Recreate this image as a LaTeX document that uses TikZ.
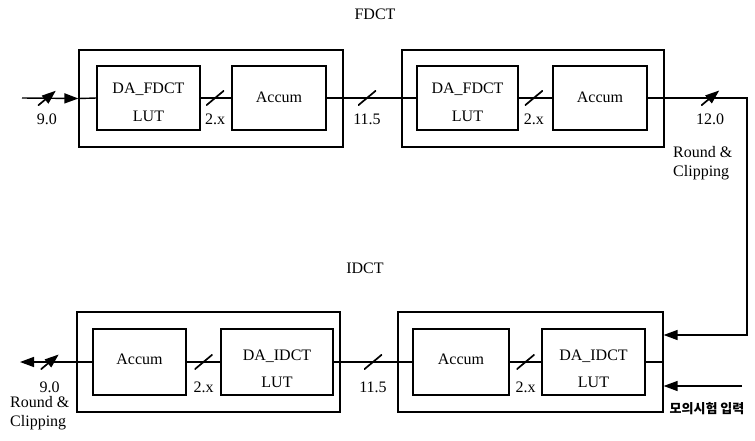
\documentclass[tikz,border=0pt]{standalone}
\usepackage{fontspec}
\setmainfont{Liberation Serif}
\newfontfamily\krfont{Noto Sans CJK KR}
\usetikzlibrary{arrows.meta}
\begin{document}
\begin{tikzpicture}[x=1pt,y=-1pt,
  every node/.style={font=\fontsize{16}{19}\selectfont},
  outerbox/.style={draw, line width=1.2pt, inner sep=0pt, minimum height=#1},
  innerbox/.style={draw, line width=1.2pt, inner sep=0pt, minimum height=#1},
  boxtext/.style={inner sep=0pt, align=center},
  wire/.style={line width=1.4pt},
  arr/.style={wire, -{Triangle[length=14pt,width=10pt]}},
  slash/.style={inner sep=0pt, minimum width=18pt, minimum height=15pt,
    path picture={\draw[line width=1.7pt] (path picture bounding box.south west) -- (path picture bounding box.north east);}},
  lbl/.style={inner sep=0pt},
  toplbl/.style={label={[lbl,label distance=7pt]below:#1}},
  botlbl/.style={label={[lbl,label distance=11pt]below:#1}},
]
\useasboundingbox (0,0) rectangle (755,440);

% titles
\node (t1) at (375,14) {FDCT};
\node (t2) at (365,268) {IDCT};

% top row
\node[outerbox=97pt, minimum width=264pt] (o1) at (211,98.5) {};
\node[outerbox=97pt, minimum width=262pt] (o2) at (533,98.5) {};
\node[innerbox=64pt, minimum width=103pt] (d1) at (148.5,98) {};
\node[innerbox=64pt, minimum width=94pt] (a1) at (279,98) {};
\node[innerbox=64pt, minimum width=101pt] (d2) at (467.5,98) {};
\node[innerbox=64pt, minimum width=94pt] (a2) at (600,98) {};
\node[boxtext] (d1t) at (148.5,102) {DA\_FDCT\\[9pt]LUT};
\node[boxtext] (a1t) at (279,97) {Accum};
\node[boxtext] (d2t) at (467.5,102) {DA\_FDCT\\[9pt]LUT};
\node[boxtext] (a2t) at (600,97) {Accum};

% bottom row
\node[outerbox=100pt, minimum width=263pt] (o3) at (208.5,362) {};
\node[outerbox=100pt, minimum width=265pt] (o4) at (530.5,362) {};
\node[innerbox=66pt, minimum width=93pt] (a3) at (139.5,362) {};
\node[innerbox=66pt, minimum width=112pt] (d3) at (277,362) {};
\node[innerbox=66pt, minimum width=96pt] (a4) at (461,362) {};
\node[innerbox=66pt, minimum width=103pt] (d4) at (593.5,362) {};
\node[boxtext] (a3t) at (139.5,359) {Accum};
\node[boxtext] (d3t) at (277,368.5) {DA\_IDCT\\[8pt]LUT};
\node[boxtext] (a4t) at (461,359) {Accum};
\node[boxtext] (d4t) at (593.5,368.5) {DA\_IDCT\\[8pt]LUT};

% free ends
\coordinate (in) at (22,98);
\coordinate (c1) at (747,98);
\coordinate (c2) at (747,335);
\coordinate (out) at (20,362);
\coordinate (in2) at (742,386);

% top connectors
\draw[arr] (in) -- node[slash,pos=0.44,toplbl=9.0]{} (o1.west);
\draw[wire] (o1.west) -- (d1.west);
\draw[wire] (d1.east) -- node[slash,pos=0.47,toplbl=2.x]{} (a1.west);
\draw[wire] (a1.east) -- node[slash,pos=0.45,toplbl=11.5]{} (d2.west);
\draw[wire] (d2.east) -- node[slash,pos=0.45,toplbl=2.x]{} (a2.west);
\draw[arr] (a2.east) -- node[slash,pos=0.63,toplbl=12.0]{} (c1) -- (c2) -- (c2 -| o4.east);

% bottom connectors
\draw[wire] (d4.east) -- (o4.east);
\draw[wire] (d4.west) -- node[slash,pos=0.5,botlbl=2.x]{} (a4.east);
\draw[wire] (a4.west) -- node[slash,pos=0.5,botlbl=11.5]{} (d3.east);
\draw[wire] (d3.west) -- node[slash,pos=0.5,botlbl=2.x]{} (a3.east);
\draw[arr] (a3.west) -- node[slash,pos=0.59,botlbl=9.0]{} (out);
\draw[arr] (in2) -- (in2 -| o4.east);

% side texts
\node[lbl,align=left,anchor=west] (rc1) at (673,163) {Round \&\\Clipping};
\node[lbl,align=left,anchor=west] (rc2) at (10,413) {Round \&\\Clipping};
\node[font=\krfont\bfseries\fontsize{13}{15}\selectfont] (kr) at (707,409) {모의시험 입력};
\end{tikzpicture}
\end{document}
